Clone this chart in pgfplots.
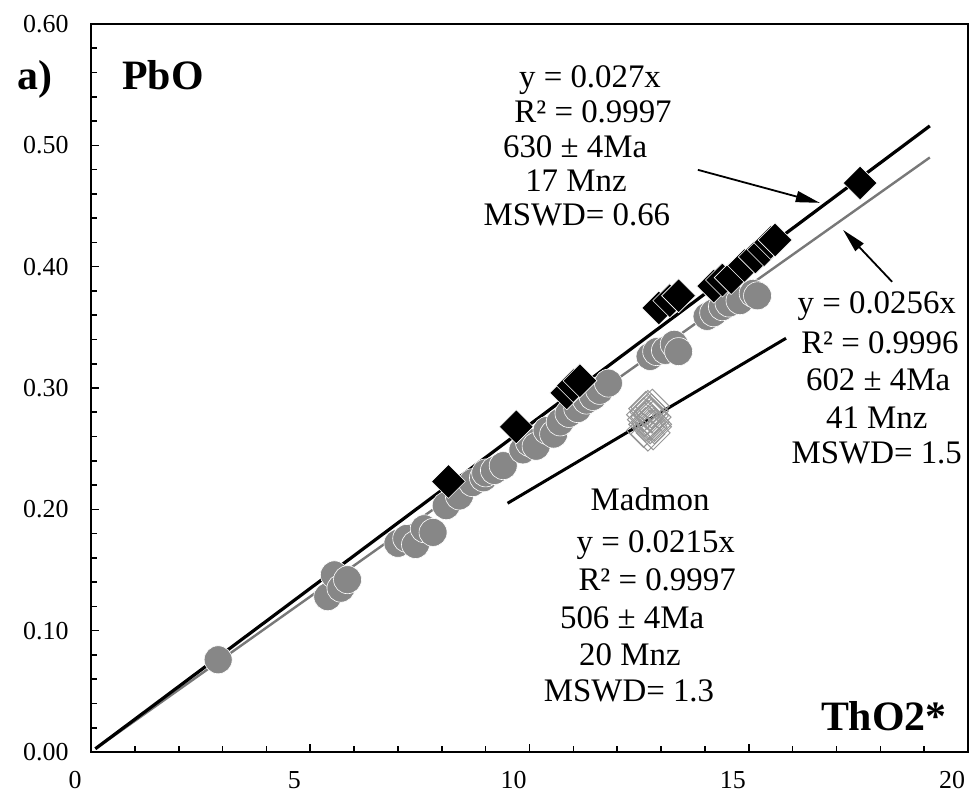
\documentclass[border=0pt]{standalone}
\usepackage{fontspec}
\setmainfont{Liberation Serif}
\usepackage{pgfplots}
\pgfplotsset{compat=1.18}
\usetikzlibrary{arrows.meta}
\definecolor{cgray}{RGB}{135,135,135}
\definecolor{lgray}{RGB}{120,120,120}
\definecolor{dgray}{RGB}{150,150,150}
\begin{document}
\begin{tikzpicture}
\begin{axis}[
  scale only axis, width=877bp, height=728bp,
  xmin=0, xmax=20, ymin=0, ymax=0.6,
  clip=false,
  axis line style={line width=2.4bp},
  xtick={0,5,10,15,20}, ytick={0,0.1,0.2,0.3,0.4,0.5,0.6},
  minor x tick num=4, minor y tick num=4,
  tick align=inside, xtick pos=bottom, ytick pos=left,
  major tick length=8bp, minor tick length=6bp,
  tick style={line width=1.6bp, black},
  /pgf/number format/assume math mode=true,
  ticklabel style={font=\fontsize{26}{30}\selectfont},
  yticklabel style={/pgf/number format/fixed, /pgf/number format/fixed zerofill, /pgf/number format/precision=2, xshift=-19bp},
  xticklabel style={xshift=-16bp, yshift=-16bp},
]
% gray circles (41 Mnz)
\addplot[only marks, mark=*, mark size=14bp, mark options={fill=cgray, draw=white, line width=0.6bp}] coordinates {
(2.9,0.076) (5.4,0.128) (5.55,0.146) (5.7,0.135) (5.85,0.142)
(7.0,0.172) (7.2,0.176) (7.4,0.171) (7.6,0.184) (7.8,0.181)
(8.1,0.203) (8.4,0.211) (8.7,0.222) (8.95,0.226) (9.0,0.230) (9.2,0.232) (9.4,0.236)
(9.85,0.249) (10.0,0.255) (10.15,0.252) (10.4,0.265) (10.55,0.262) (10.7,0.272)
(10.9,0.279) (11.1,0.283) (11.3,0.290) (11.45,0.293) (11.6,0.298) (11.8,0.304)
(12.75,0.326) (12.9,0.330) (13.1,0.331) (13.3,0.336) (13.4,0.330)
(14.05,0.359) (14.2,0.362) (14.4,0.367) (14.55,0.370) (14.8,0.372) (15.1,0.378) (15.2,0.376)
};
% black diamonds (17 Mnz)
\addplot[only marks, mark=square*, mark size=12bp, mark options={rotate=45, fill=black, draw=white, line width=0.6bp}] coordinates {
(8.15,0.223) (9.70,0.268) (10.85,0.296) (11.00,0.302) (11.15,0.306)
(12.95,0.366) (13.20,0.372) (13.40,0.376) (14.20,0.384) (14.40,0.389)
(14.60,0.391) (14.90,0.401) (15.15,0.408) (15.35,0.414) (15.50,0.420)
(15.60,0.422) (17.54,0.469)
};
% Madmon open diamonds (20 Mnz)
\addplot[only marks, mark=square, mark size=12bp, mark options={rotate=45, draw=dgray, line width=1bp}] coordinates {
(12.60,0.265) (12.65,0.270) (12.70,0.284) (12.75,0.279) (12.80,0.272)
(12.85,0.268) (12.62,0.274) (12.78,0.281) (12.84,0.276) (12.70,0.262)
(12.80,0.285) (12.60,0.278) (12.75,0.268) (12.82,0.263) (12.85,0.270)
(12.68,0.280) (12.65,0.283) (12.72,0.271) (12.70,0.276) (12.78,0.277)
};
% regression lines
\addplot[lgray, line width=2.4bp] coordinates {(0.1,0.0026) (19.13,0.490)};
\addplot[black, line width=3.2bp] coordinates {(0.1,0.0027) (19.13,0.516)};
\addplot[black, line width=3bp] coordinates {(9.5,0.205) (15.85,0.341)};
% arrows
\draw[-{Triangle[length=24bp,width=11bp]}, line width=1.8bp] (axis cs:13.84,0.4798) -- (axis cs:16.62,0.4526);
\draw[-{Triangle[length=24bp,width=11bp]}, line width=1.8bp] (axis cs:18.27,0.3875) -- (axis cs:17.15,0.4303);
% labels
\node[anchor=base, font=\bfseries\fontsize{42}{48}\selectfont] at (axis cs:-1.28,0.5458) {a)};
\node[anchor=base, font=\bfseries\fontsize{42}{48}\selectfont] at (axis cs:1.64,0.5458) {PbO};
\node[anchor=base, font=\bfseries\fontsize{42}{48}\selectfont] at (axis cs:18.08,0.0181) {ThO2*};
% block 1
\begin{scope}[every node/.style={anchor=base, font=\fontsize{33}{38}\selectfont, inner sep=0pt}]
\node at (axis cs:11.38,0.5474) {y = 0.027x};
\node at (axis cs:11.45,0.5186) {R² = 0.9997};
\node at (axis cs:11.04,0.4897) {630 ± 4Ma};
\node at (axis cs:11.06,0.4617) {17 Mnz};
\node at (axis cs:11.08,0.4336) {MSWD= 0.66};
% block 2
\node at (axis cs:17.92,0.3611) {y = 0.0256x};
\node at (axis cs:17.99,0.3281) {R² = 0.9996};
\node at (axis cs:17.95,0.2976) {602 ± 4Ma};
\node at (axis cs:17.92,0.2663) {41 Mnz};
\node at (axis cs:17.92,0.2374) {MSWD= 1.5};
% Madmon block
\node at (axis cs:12.75,0.1987) {Madmon};
\node at (axis cs:12.88,0.1641) {y = 0.0215x};
\node at (axis cs:12.91,0.1327) {R² = 0.9997};
\node at (axis cs:12.34,0.1014) {506 ± 4Ma};
\node at (axis cs:12.29,0.0709) {20 Mnz};
\node at (axis cs:12.27,0.0420) {MSWD= 1.3};
\end{scope}
\end{axis}
\pgfresetboundingbox
\path[use as bounding box] (-91bp,-49bp) rectangle (879bp,752bp);
\end{tikzpicture}
\end{document}
